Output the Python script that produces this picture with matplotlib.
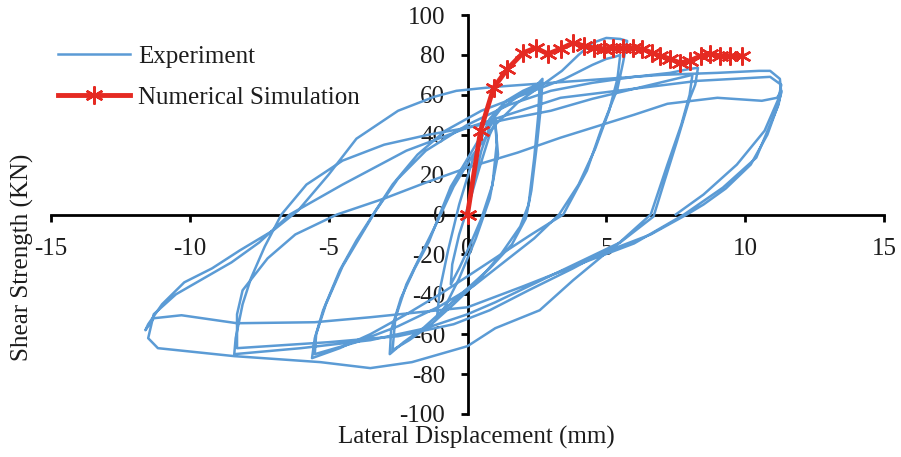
import numpy as np
import matplotlib
matplotlib.use("Agg")
import matplotlib.pyplot as plt

plt.rcParams['font.family'] = ['Liberation Serif', 'DejaVu Serif']
plt.rcParams['axes.unicode_minus'] = False

# ---- data ----
# numerical simulation (backbone curve)
sim_x = [0.0, 0.47, 0.94, 1.44, 2.0, 2.45, 2.9, 3.35, 3.8, 4.2, 4.55, 4.9, 5.25,
         5.6, 5.97, 6.3, 6.65, 6.95, 7.3, 7.65, 8.0, 8.4, 8.75, 9.1, 9.45, 9.9]
sim_y = [0.0, 42, 63.5, 73, 81, 83.5, 80.5, 83, 86, 84.5, 83.5, 83, 83.5,
         83.5, 83.5, 83, 81, 79.5, 78, 76, 77, 79.5, 80.5, 79.5, 79.5, 79.5]

# experiment: hysteresis path, traced branch by branch (x mm, y kN)
c1 = [(0, 0), (0.2, 15), (0.5, 32), (0.8, 44), (1.0, 48),
      (1.05, 35), (0.9, 15), (0.5, -2), (0.1, -15), (-0.3, -27), (-0.6, -35),
      (-0.55, -25), (-0.3, -10), (0, 3), (0.4, 22), (0.8, 40), (1.0, 46),
      (1.1, 30), (0.8, 8), (0.3, -12), (-0.3, -32), (-0.8, -46), (-1.1, -52),
      (-1.0, -38), (-0.7, -18), (-0.3, 5), (0.2, 28), (0.8, 48)]
c2 = [(1.4, 57), (2.0, 62), (2.5, 65), (2.7, 68),
      (2.65, 55), (2.5, 35), (2.3, 12), (2.1, -2), (1.6, -15), (0.8, -27), (0, -37),
      (-0.8, -47), (-1.6, -57), (-2.3, -64), (-2.8, -70),
      (-2.75, -58), (-2.4, -42), (-1.9, -27), (-1.4, -14), (-1.0, 0), (-0.6, 14),
      (0, 28), (0.6, 42), (1.2, 53), (1.9, 60), (2.5, 64), (2.6, 66),
      (2.55, 50), (2.4, 28), (2.2, 5), (1.9, -6), (1.2, -20), (0.4, -33),
      (-0.5, -45), (-1.3, -55), (-2.1, -63), (-2.7, -68),
      (-2.6, -52), (-2.2, -35), (-1.6, -18), (-1.1, -4), (-0.5, 14), (0.2, 30),
      (1.0, 45), (1.8, 56), (2.6, 64)]
c3 = [(3.4, 72), (4.0, 80), (4.5, 86), (5.0, 88.5), (5.5, 88), (5.75, 87),
      (5.6, 76), (5.4, 63), (4.8, 42), (4.3, 22), (3.45, 0), (2.3, -10),
      (1.2, -20), (0, -31), (-1.0, -40), (-2.2, -50), (-3.5, -60), (-4.6, -67),
      (-5.6, -72),
      (-5.5, -62), (-5.2, -48), (-4.6, -28), (-4.0, -13), (-3.4, 0), (-2.7, 15),
      (-1.8, 30), (-0.8, 42), (0.5, 52), (2.0, 60), (3.5, 68), (4.5, 75),
      (5.0, 78), (5.3, 79), (5.5, 80),
      (5.4, 68), (5.1, 52), (4.6, 33), (4.0, 15), (3.3, 0), (2.4, -12),
      (1.3, -24), (0.2, -36), (-1.0, -46), (-2.5, -56), (-4.0, -64), (-5.5, -70),
      (-5.45, -60), (-5.1, -45), (-4.5, -26), (-3.9, -12), (-3.3, 2)]
c4 = [(-2.5, 18), (-1.5, 32), (0, 45), (1.5, 55), (3.0, 62), (4.5, 66),
      (6.0, 69), (7.3, 71), (8.0, 73), (8.3, 73.5),
      (8.2, 65), (8.0, 58), (7.55, 37), (7.1, 17), (6.7, -1), (5.5, -14),
      (4.0, -24), (2.5, -34), (1.0, -44), (0, -50), (-1.5, -57), (-3.5, -63),
      (-6.0, -67), (-8.4, -70),
      (-8.35, -62), (-8.1, -45), (-7.8, -32), (-7.3, -16), (-6.7, 0), (-5.8, 15),
      (-4.5, 27), (-3.0, 35), (-1.4, 40), (0, 43.5), (1.5, 48), (3, 52),
      (4.5, 58), (6, 63), (7.2, 67), (8.1, 70),
      (8.0, 60), (7.7, 45), (7.2, 25), (6.6, 0), (5.4, -15), (3.8, -27),
      (2.2, -38), (0.8, -48), (-0.5, -55), (-2.5, -61), (-5.0, -64), (-8.3, -67)]
c5 = [(-8.3, -50), (-8.1, -38), (-7.2, -22), (-6.2, -10), (-4.7, 0), (-3.0, 8),
      (-1.5, 16), (0, 23.5), (1.8, 31), (3.35, 38.5), (4.5, 43.5), (6, 50),
      (7.2, 55.5), (9, 58.5), (10.6, 57), (11.15, 58.5), (11.3, 62),
      (11.2, 55), (10.4, 28.5), (9.2, 13.5), (7.8, 0), (6.0, -14.5), (4.1, -24.5),
      (2.0, -36), (0, -46.5), (-3.5, -51.5), (-5.5, -54), (-8.3, -54.5),
      (-10.3, -50.5), (-11.3, -52), (-11.6, -58),
      (-11.5, -55), (-11.0, -45), (-10.2, -34), (-9.2, -27), (-8.2, -18),
      (-7.0, -8), (-6.1, 2), (-5.0, 20), (-4.0, 38), (-2.5, 52), (-1.2, 59),
      (-0.4, 62), (1, 64), (3, 66), (5, 68), (7, 70), (9, 71), (10.5, 72),
      (10.9, 72), (11.25, 68), (11.3, 61),
      (11.15, 53.5), (10.8, 40), (10.2, 25), (9.3, 13), (8.5, 5), (7.9, 0),
      (6.6, -10), (5.1, -18), (3.8, -33), (2.6, -48), (1.0, -57), (0, -66),
      (-2, -74), (-3.5, -77), (-5.3, -74), (-8.4, -71), (-11.15, -67), (-11.5, -62),
      (-11.3, -50), (-10.5, -40), (-9.5, -32), (-8.5, -24), (-7.5, -14),
      (-6.4, 0), (-4.5, 15), (-2.2, 32), (0, 43.5), (3.35, 58.5), (5.4, 62),
      (8.3, 67), (10.9, 69), (11.3, 65),
      (11.2, 58), (10.7, 42), (9.7, 25), (8.5, 10), (7.5, 0)]
exp_pts = c1 + c2 + c3 + c4 + c5
exp_x = [p[0] for p in exp_pts]
exp_y = [p[1] for p in exp_pts]

x_ticks = [-15, -10, -5, 0, 5, 10, 15]
y_ticks = [-100, -80, -60, -40, -20, 0, 20, 40, 60, 80, 100]

blue = '#5B9BD5'
red = '#E52A22'
txt = '#1c1c1c'
fs = 18

fig = plt.figure(figsize=(9.01, 4.57), dpi=100)
ax = fig.add_axes([51 / 901, 1 - 414 / 457, 833 / 901, 399 / 457])

ax.plot(exp_x, exp_y, color=blue, lw=1.8, label='Experiment', solid_joinstyle='round')
ax.plot(sim_x, sim_y, color=red, lw=3.5, marker=(6, 2, 0), markersize=13,
        markeredgewidth=1.7, label='Numerical Simulation')

ax.set_xlim(-15, 15)
ax.set_ylim(-100, 100)
ax.set_xticks(x_ticks)
ax.set_yticks(y_ticks)

for s in ['top', 'right']:
    ax.spines[s].set_visible(False)
for s in ['left', 'bottom']:
    ax.spines[s].set_position(('data', 0))
    ax.spines[s].set_linewidth(2.0)
    ax.spines[s].set_color('black')
    ax.spines[s].set_zorder(1)

ax.tick_params(axis='both', direction='out', length=5, width=2.0, colors='black',
               labelsize=fs, labelcolor=txt)
ax.tick_params(axis='x', pad=12)
ax.tick_params(axis='y', pad=11)

fig.text(476 / 901, 1 - 437 / 457, 'Lateral Displacement (mm)', ha='center', va='center',
         fontsize=fs, color=txt)
fig.text(22 / 901, 1 - 257 / 457, 'Shear Strength (KN)', ha='center', va='center',
         rotation=90, fontsize=fs, color=txt)

ax.legend(loc='upper left', bbox_to_anchor=(58 / 901, 1 - 45 / 457),
          bbox_transform=fig.transFigure, frameon=False, fontsize=fs,
          handlelength=2.9, handletextpad=0.3, labelspacing=0.75,
          borderpad=0, borderaxespad=0, labelcolor=txt)

fig.savefig('out.png', dpi=100)
